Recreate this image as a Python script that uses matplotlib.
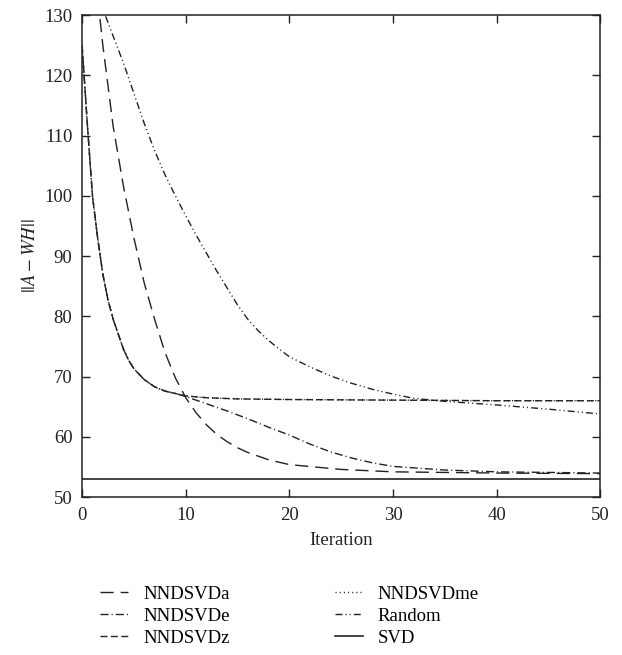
import matplotlib
matplotlib.use("Agg")
import matplotlib.pyplot as plt

plt.rcParams['font.family'] = ['Liberation Serif', 'DejaVu Serif']
plt.rcParams['mathtext.fontset'] = 'stix'
plt.rcParams['lines.scale_dashes'] = False

# Данные
x_z = [0, 0.5, 1, 1.5, 2, 2.5, 3, 3.5, 4, 4.5, 5, 6, 7, 8, 9, 10, 12, 15, 20, 30, 40, 50]
y_z = [125, 112, 100, 93, 87, 82.7, 79.5, 77, 74.5, 72.7, 71.3, 69.5, 68.3, 67.6, 67.2,
       66.8, 66.5, 66.3, 66.2, 66.1, 66.0, 66.0]

x_e = [0, 0.5, 1, 1.5, 2, 2.5, 3, 3.5, 4, 4.5, 5, 6, 7, 8, 9, 10, 12, 14, 16, 18, 20, 22,
       24, 26, 28, 30, 35, 40, 45, 50]
y_e = [125, 112, 100, 93, 87, 82.7, 79.5, 77, 74.5, 72.7, 71.3, 69.5, 68.3, 67.6, 67.2,
       66.7, 65.5, 64.3, 63.0, 61.6, 60.3, 58.8, 57.5, 56.5, 55.7, 55.1, 54.5, 54.2, 54.1, 54.0]

x_me = x_z
y_me = y_z

x_a = [1, 2, 3, 4, 5, 6, 7, 8, 9, 10, 11, 12, 13, 14, 15, 16, 18, 20, 25, 30, 40, 50]
y_a = [141, 125, 111.5, 101.5, 93, 85.5, 79.5, 74, 69.8, 66.5, 64, 62, 60.4, 59.2, 58.2,
       57.4, 56.2, 55.4, 54.6, 54.2, 54.0, 53.9]

x_r = [1, 2, 3, 4, 5, 6, 7, 8, 9, 10, 11, 12, 13, 14, 15, 16, 17, 18, 19, 20, 22, 24, 26,
       28, 30, 32, 35, 40, 45, 50]
y_r = [136, 131, 126.5, 122, 117, 112, 107.5, 103.5, 100, 96.7, 93.5, 90.5, 87.5, 84.7,
       81.9, 79.5, 77.6, 76, 74.6, 73.3, 71.6, 70.1, 68.9, 67.9, 67.1, 66.4, 65.9, 65.3,
       64.6, 63.8]

svd_value = 53.0

xticks = [0, 10, 20, 30, 40, 50]
yticks = [50, 60, 70, 80, 90, 100, 110, 120, 130]

col = '#222222'
lw = 1.0

fig = plt.figure(figsize=(6.22, 6.55), dpi=100)
ax = fig.add_axes([0.132, 0.241, 0.833, 0.736])

la, = ax.plot(x_a, y_a, color=col, lw=lw, dashes=(9.5, 5), label='NNDSVDa')
le, = ax.plot(x_e, y_e, color=col, lw=lw, dashes=(5.8, 2.2, 0.8, 2.2), label='NNDSVDe')
lz, = ax.plot(x_z, y_z, color=col, lw=lw, dashes=(5, 2.5), label='NNDSVDz')
lme, = ax.plot(x_me, y_me, color=col, lw=lw, dashes=(0.8, 2.2), label='NNDSVDme')
lr, = ax.plot(x_r, y_r, color=col, lw=lw, dashes=(5, 2.2, 0.8, 2.2, 0.8, 2.2), label='Random')
ls = ax.axhline(svd_value, color=col, lw=1.2, label='SVD')

ax.set_xlim(0, 50)
ax.set_ylim(50, 130)
ax.set_xticks(xticks)
ax.set_yticks(yticks)
ax.tick_params(direction='in', length=6, width=1, top=True, right=True,
               labelsize=13.5, colors=col, pad=7)
for s in ax.spines.values():
    s.set_linewidth(1.1)
    s.set_color(col)

ax.set_xlabel('Iteration', fontsize=13.5, color=col, labelpad=6)
ax.set_ylabel(r'$||A-WH||$', fontsize=13.5, color=col, labelpad=4)

fig.legend(handles=[la, le, lz, lme, lr, ls], ncol=2, frameon=False,
           loc='upper left', bbox_to_anchor=(0.149, 0.117), fontsize=13.5,
           handlelength=1.5, handletextpad=0.8, columnspacing=5.6,
           labelspacing=0.25, borderaxespad=0)

plt.savefig('out.png', dpi=100)
